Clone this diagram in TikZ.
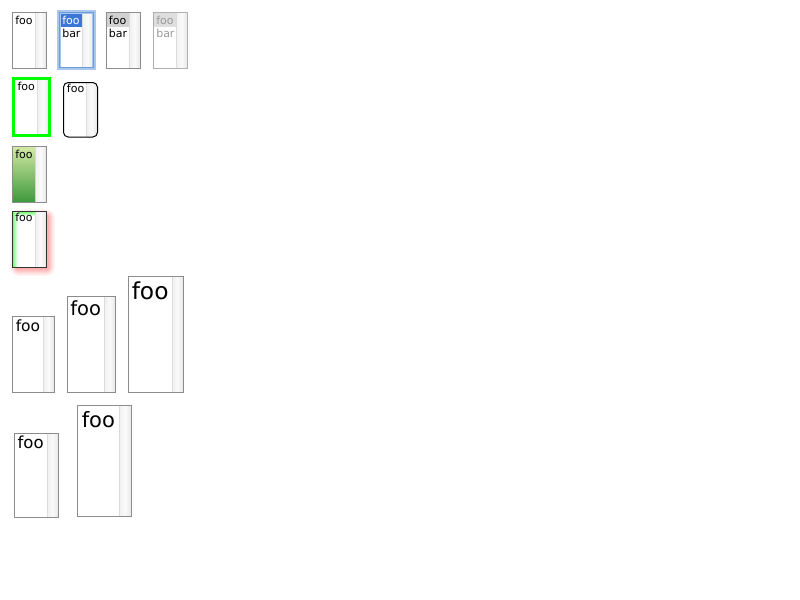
\documentclass[tikz,border=0pt]{standalone}
\usepackage{fontspec}
\setmainfont{DejaVu Sans}
\usetikzlibrary{calc}
\definecolor{bordergray}{HTML}{8C8C8C}
\definecolor{lightborder}{HTML}{AFAFAF}
\definecolor{sbl}{HTML}{F0F0F0}
\definecolor{sbm}{HTML}{FAFAFA}
\definecolor{sbr}{HTML}{E6E6E6}
\definecolor{sbline}{HTML}{DCDCDC}
\definecolor{selblue}{HTML}{3A77D6}
\definecolor{glowblue}{HTML}{A9C6EC}
\definecolor{glowdark}{HTML}{6F9BD8}
\definecolor{selgray}{HTML}{D2D2D2}
\definecolor{selgraylight}{HTML}{DEDEDE}
\definecolor{greytext}{HTML}{999999}
\definecolor{brightgreen}{HTML}{00FF00}
\definecolor{gtop}{HTML}{D2E8A2}
\definecolor{gbot}{HTML}{3F9A3F}
\definecolor{glowgreen}{HTML}{7CFF7C}
\definecolor{shadowred}{HTML}{FF7070}
\definecolor{darkborder}{HTML}{333333}
\newcommand\mylistbox[5]{%
  \fill[white] (#1,#2) rectangle (#3,#4);
  \shade[left color=sbl, right color=sbr, middle color=sbm] (#5,#2) rectangle (#3,#4);
  \draw[sbline, line width=0.75pt] (#5,#2) -- (#5,#4);
}
\tikzset{
  plain/.style={draw=bordergray, line width=0.75pt},
  txt/.style={anchor=base west, inner sep=0pt, font=\fontsize{8.25pt}{10pt}\selectfont},
}
\begin{document}
\begin{tikzpicture}[x=0.75pt,y=-0.75pt]
\useasboundingbox (0,0) rectangle (800,600);
\fill[white] (0,0) rectangle (800,600);

% Box 1
\mylistbox{12.5}{12.5}{46.5}{68}{35}
\draw[plain] (12.5,12.5) rectangle (46.5,68);
\node[txt] (t1) at (15,24) {foo};

% Box 2 (focused, selected)
\mylistbox{59.5}{12.5}{93.5}{68}{82}
\fill[selblue] (60,13) rectangle (82,26.5);
\draw[glowblue, line width=2.4pt] (59,12) rectangle (94,68.5);
\draw[glowdark, line width=0.5pt] (59.8,12.8) rectangle (93.2,67.7);
\node[txt, text=white] (t2a) at (62,24) {foo};
\node[txt] (t2b) at (62,37.3) {bar};

% Box 3
\mylistbox{106.5}{12.5}{140.5}{68}{129}
\fill[selgray] (107,13) rectangle (129,26.5);
\draw[plain] (106.5,12.5) rectangle (140.5,68);
\node[txt] (t3a) at (108.7,24) {foo};
\node[txt] (t3b) at (108.7,37.3) {bar};

% Box 4 (disabled)
\mylistbox{153.5}{12.5}{187.5}{68}{176}
\fill[selgraylight] (154,13) rectangle (176,26.5);
\draw[draw=lightborder, line width=0.75pt] (153.5,12.5) rectangle (187.5,68);
\node[txt, text=greytext] (t4a) at (156,24) {foo};
\node[txt, text=greytext] (t4b) at (156,37.3) {bar};

% Box 5 (green thick border)
\mylistbox{13.5}{78.5}{49.5}{135.5}{37}
\draw[brightgreen, line width=2.25pt] (13.5,78.5) rectangle (49.5,135.5);
\node[txt] (t5) at (17.3,90.7) {foo};

% Box 6 (rounded)
\begin{scope}
\clip[rounded corners=3.5pt] (63.5,82.5) rectangle (97.5,137);
\mylistbox{63.5}{82.5}{97.5}{137}{86}
\end{scope}
\draw[black, line width=0.75pt, rounded corners=3.5pt] (63.5,82.5) rectangle (97.5,137);
\node[txt] (t6) at (66.7,92) {foo};

% Box 7 (green gradient)
\mylistbox{12.5}{146.5}{46.5}{202}{35}
\shade[top color=gtop, bottom color=gbot] (13,147) rectangle (35,201.5);
\draw[plain] (12.5,146.5) rectangle (46.5,202);
\node[txt] (t7) at (15,158.3) {foo};

% Box 8 (inner green glow, red shadow offset to bottom right)
\foreach \s/\o in {7/0.08,5.5/0.1,4/0.13,2.5/0.17,1/0.22}{
  \fill[shadowred, opacity=\o, rounded corners=\s pt] (17-\s,216-\s) rectangle (48+\s,269+\s);
}
\mylistbox{12.5}{211.5}{46.5}{267}{35}
\shade[left color=glowgreen, right color=white] (13,212) rectangle (18,266.5);
\shade[top color=glowgreen, bottom color=white] (18,212) rectangle (35,216);
\fill[white] (18,216) rectangle (35,266.5);
\draw[darkborder, line width=0.75pt] (12.5,211.5) rectangle (46.5,267);
\node[txt] (t8) at (15,221.5) {foo};

% Box 9
\mylistbox{12.5}{316.5}{54}{392}{43}
\draw[plain] (12.5,316.5) rectangle (54,392);
\node[txt, font=\fontsize{11.6pt}{14pt}\selectfont] (t9) at (15.5,331.7) {foo};

% Box 10
\mylistbox{67.5}{296.5}{115.5}{392}{104}
\draw[plain] (67.5,296.5) rectangle (115.5,392);
\node[txt, font=\fontsize{14.6pt}{17pt}\selectfont] (t10) at (70,315.7) {foo};

% Box 11
\mylistbox{128.5}{276.5}{183}{392}{172}
\draw[plain] (128.5,276.5) rectangle (183,392);
\node[txt, font=\fontsize{17.5pt}{21pt}\selectfont] (t11) at (131.5,299.3) {foo};

% Box 12
\mylistbox{14.5}{433.5}{58.5}{517}{47}
\draw[plain] (14.5,433.5) rectangle (58.5,517);
\node[txt, font=\fontsize{12.4pt}{15pt}\selectfont] (t12) at (17.3,448.3) {foo};

% Box 13
\mylistbox{77.5}{405.5}{131.5}{516}{119}
\draw[plain] (77.5,405.5) rectangle (131.5,516);
\node[txt, font=\fontsize{15.8pt}{19pt}\selectfont] (t13) at (81.5,427.3) {foo};
\end{tikzpicture}
\end{document}
